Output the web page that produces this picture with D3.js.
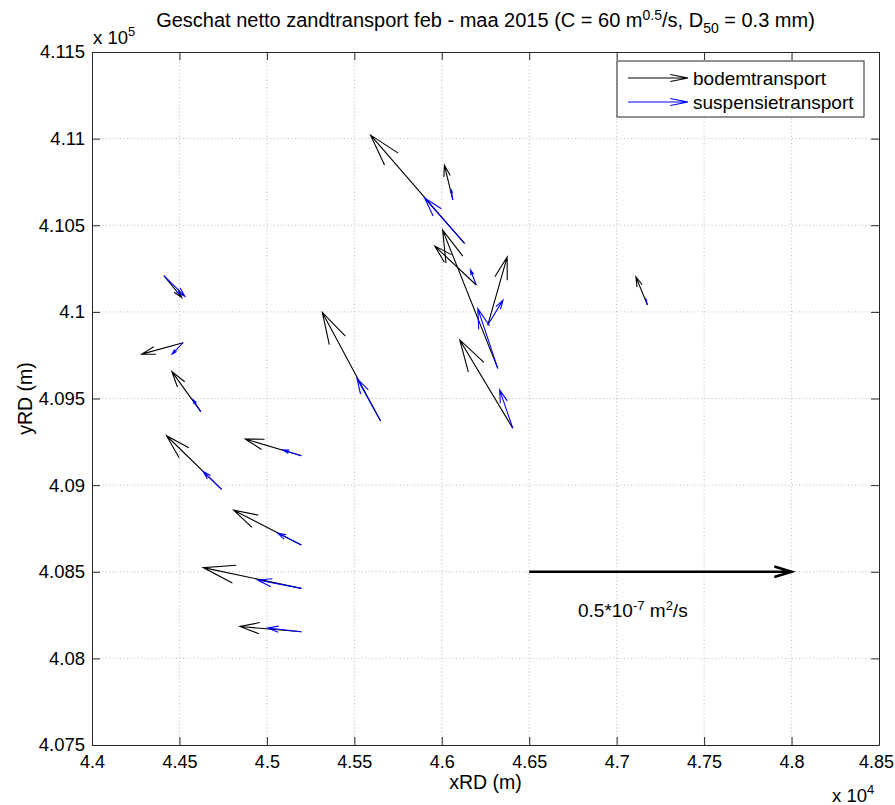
<!DOCTYPE html>
<html>
<head>
<meta charset="UTF-8" />
<title>Geschat netto zandtransport</title>
<script src="https://d3js.org/d3.v7.min.js"></script>
<style>
body { margin: 0; background: #fff; }
text { font-family: "Liberation Sans", Arial, sans-serif; fill: #000; }
.grid line { stroke: #bdbdbd; stroke-dasharray: 1,2.5; }
.axis path, .axis line { stroke: #262626; }
</style>
</head>
<body>
<div id="chart"></div>
<script>
// meetpunten (RD-coordinaten, m)
var stationX = [44411, 44521, 44622, 44741, 45197, 45197, 45197, 45197,
                46130, 45650, 46063, 46320, 46197, 46263, 46406, 47176];
var stationY = [410209, 409822, 409424, 408976, 409170, 408654, 408404, 408154,
                410396, 409370, 410646, 409674, 410155, 409924, 409328, 410040];
// transport in 1e-7 m2/s
var bodemU = [0.034, -0.079, -0.055, -0.105, -0.107, -0.129, -0.187, -0.117,
              -0.179, -0.111, -0.016, -0.105, -0.079, 0.037, -0.101, -0.022];
var bodemV = [-0.042, -0.022, 0.077, 0.103, 0.032, 0.067, 0.040, 0.010,
              0.208, 0.209, 0.067, 0.266, 0.075, 0.131, 0.170, 0.054];
var suspU = [0.040, -0.021, -0.015, -0.035, -0.035, -0.045, -0.083, -0.064,
             -0.076, -0.045, -0.003, -0.038, -0.011, 0.029, -0.025, -0.003];
var suspV = [-0.040, -0.022, 0.023, 0.034, 0.011, 0.023, 0.016, 0.007,
             0.087, 0.082, 0.019, 0.115, 0.029, 0.048, 0.074, 0.011];

var xTicks = [44000, 44500, 45000, 45500, 46000, 46500, 47000, 47500, 48000, 48500];
var xTickLabels = ['4.4', '4.45', '4.5', '4.55', '4.6', '4.65', '4.7', '4.75', '4.8', '4.85'];
var yTicks = [407500, 408000, 408500, 409000, 409500, 410000, 410500, 411000, 411500];
var yTickLabels = ['4.075', '4.08', '4.085', '4.09', '4.095', '4.1', '4.105', '4.11', '4.115'];

// referentiepijl
var refX = 46500, refY = 408500, refValue = 0.5;
var scaleFactor = 3000; // m per 1e-7 m2/s

var width = 895, height = 805;
var mLeft = 92, mRight = 879, mTop = 52, mBottom = 745;

var svg = d3.select('#chart').append('svg')
    .attr('width', width)
    .attr('height', height);

var x = d3.scaleLinear().domain([44000, 48500]).range([mLeft, mRight]);
var y = d3.scaleLinear().domain([407500, 411500]).range([mBottom, mTop]);

// grid
var grid = svg.append('g').attr('class', 'grid');
grid.selectAll('.gx').data(xTicks.slice(1, -1)).enter().append('line')
    .attr('x1', function(d) { return x(d); }).attr('x2', function(d) { return x(d); })
    .attr('y1', mTop).attr('y2', mBottom);
grid.selectAll('.gy').data(yTicks.slice(1, -1)).enter().append('line')
    .attr('y1', function(d) { return y(d); }).attr('y2', function(d) { return y(d); })
    .attr('x1', mLeft).attr('x2', mRight);

// assen
svg.append('g').attr('class', 'axis')
    .attr('transform', 'translate(0,' + mBottom + ')')
    .call(d3.axisBottom(x).tickValues(xTicks).tickSizeInner(-8).tickSizeOuter(0)
        .tickPadding(10).tickFormat(function(d, i) { return xTickLabels[i]; }))
    .call(function(g) {
        g.selectAll('text').style('font-size', '18px');
        g.selectAll('.tick:last-of-type text').attr('dx', -3);
    });
svg.append('g').attr('class', 'axis')
    .attr('transform', 'translate(' + mLeft + ',0)')
    .call(d3.axisLeft(y).tickValues(yTicks).tickSizeInner(-8).tickSizeOuter(0)
        .tickPadding(7).tickFormat(function(d, i) { return yTickLabels[i]; }))
    .call(function(g) { g.selectAll('text').style('font-size', '18.5px'); });
svg.append('g').attr('class', 'axis')
    .attr('transform', 'translate(0,' + mTop + ')')
    .call(d3.axisTop(x).tickValues(xTicks).tickSizeInner(-8).tickSizeOuter(0).tickFormat(''));
svg.append('g').attr('class', 'axis')
    .attr('transform', 'translate(' + mRight + ',0)')
    .call(d3.axisRight(y).tickValues(yTicks).tickSizeInner(-8).tickSizeOuter(0).tickFormat(''));

function arrowPath(x0, y0, x1, y1, hmax, frac, angDeg) {
    var dx = x1 - x0, dy = y1 - y0, L = Math.sqrt(dx * dx + dy * dy);
    var h = Math.min(frac * L, hmax), a = angDeg * Math.PI / 180;
    var ux = dx / L, uy = dy / L;
    var c = Math.cos(a), s = Math.sin(a);
    var w1x = x1 - h * (ux * c - uy * s), w1y = y1 - h * (uy * c + ux * s);
    var w2x = x1 - h * (ux * c + uy * s), w2y = y1 - h * (uy * c - ux * s);
    return 'M' + x0 + ',' + y0 + 'L' + x1 + ',' + y1 +
        'M' + w1x + ',' + w1y + 'L' + x1 + ',' + y1 + 'L' + w2x + ',' + w2y;
}

function quiver(U, V, color) {
    svg.append('g').selectAll('path').data(stationX).enter().append('path')
        .attr('d', function(d, i) {
            return arrowPath(x(stationX[i]), y(stationY[i]),
                x(stationX[i] + U[i] * scaleFactor), y(stationY[i] + V[i] * scaleFactor), 33, 0.33, 16);
        })
        .attr('fill', 'none')
        .attr('stroke', color)
        .attr('stroke-width', 1.1);
}
quiver(bodemU, bodemV, '#000');
quiver(suspU, suspV, '#0000ff');

// referentiepijl
svg.append('path')
    .attr('d', arrowPath(x(refX), y(refY), x(refX + refValue * scaleFactor), y(refY), 18, 0.33, 17))
    .attr('fill', 'none').attr('stroke', '#000').attr('stroke-width', 2.6);
var ref = svg.append('text').attr('x', 578).attr('y', 617).style('font-size', '19px');
ref.append('tspan').text('0.5*10');
ref.append('tspan').attr('dy', -7).style('font-size', '13px').text('-7');
ref.append('tspan').attr('dy', 7).text(' m');
ref.append('tspan').attr('dy', -7).style('font-size', '13px').text('2');
ref.append('tspan').attr('dy', 7).text('/s');

// titel
var title = svg.append('text').attr('x', (mLeft + mRight) / 2).attr('y', 27)
    .attr('text-anchor', 'middle').style('font-size', '20px');
title.append('tspan').text('Geschat netto zandtransport feb - maa 2015 (C = 60 m');
title.append('tspan').attr('dy', -7).style('font-size', '14px').text('0.5');
title.append('tspan').attr('dy', 7).text('/s, D');
title.append('tspan').attr('dy', 6).style('font-size', '14px').text('50');
title.append('tspan').attr('dy', -6).text(' = 0.3 mm)');

// exponenten
var ex5 = svg.append('text').attr('x', 93).attr('y', 44).style('font-size', '18.5px');
ex5.append('tspan').text('x 10');
ex5.append('tspan').attr('dy', -8).style('font-size', '13px').text('5');
var ex4 = svg.append('text').attr('x', 832).attr('y', 802).style('font-size', '18.5px');
ex4.append('tspan').text('x 10');
ex4.append('tspan').attr('dy', -8).style('font-size', '13px').text('4');

// aslabels
svg.append('text').attr('x', (mLeft + mRight) / 2).attr('y', 789)
    .attr('text-anchor', 'middle').style('font-size', '19.5px').text('xRD (m)');
svg.append('text').attr('transform', 'translate(32,' + ((mTop + mBottom) / 2) + ') rotate(-90)')
    .attr('text-anchor', 'middle').style('font-size', '19.5px').text('yRD (m)');

// legenda
var legend = svg.append('g');
legend.append('rect').attr('x', 617).attr('y', 61).attr('width', 247).attr('height', 56)
    .attr('fill', '#fff').attr('stroke', '#262626');
var legendItems = [['bodemtransport', '#000', 78], ['suspensietransport', '#0000ff', 102]];
legendItems.forEach(function(it) {
    legend.append('path').attr('d', arrowPath(628, it[2], 688, it[2], 18, 0.33, 11))
        .attr('fill', 'none').attr('stroke', it[1]).attr('stroke-width', 1.1);
    legend.append('text').attr('x', 693).attr('y', it[2] + 7).style('font-size', '19px').text(it[0]);
});
</script>
</body>
</html>
